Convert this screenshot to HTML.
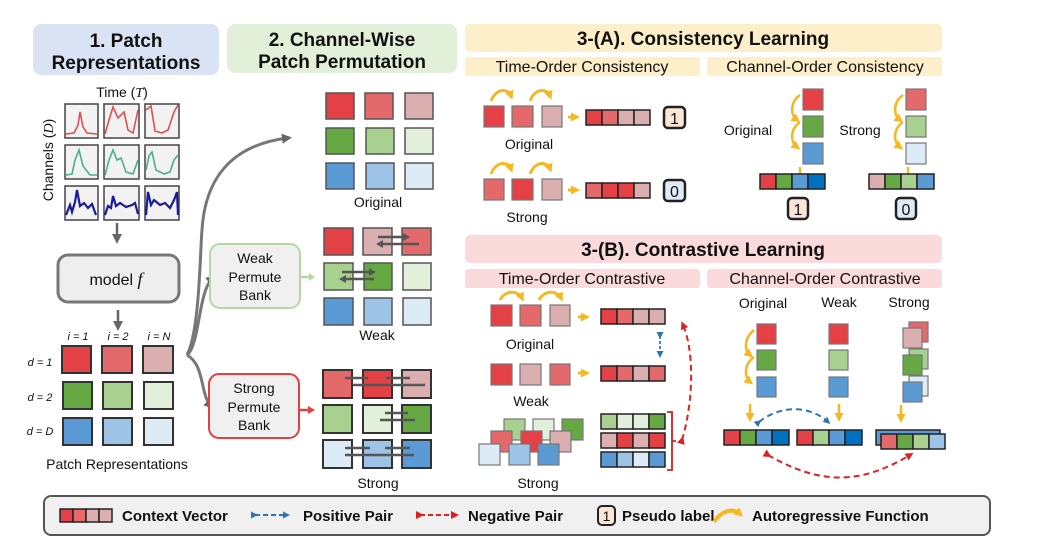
<!DOCTYPE html>
<html><head><meta charset="utf-8"><style>
html,body{margin:0;padding:0;background:#fff}
svg{display:block}
text{font-family:"Liberation Sans",sans-serif;fill:#111}
.b{font-weight:bold}
</style></head><body>
<svg width="1044" height="550" viewBox="0 0 1044 550" xmlns="http://www.w3.org/2000/svg">
<defs>
<marker id="ag" markerUnits="userSpaceOnUse" markerWidth="10" markerHeight="10" refX="6" refY="5" orient="auto"><path d="M0,0 L10,5 L0,10 z" fill="#666"/></marker>
<marker id="ay" markerUnits="userSpaceOnUse" markerWidth="9" markerHeight="9" refX="5" refY="4.5" orient="auto"><path d="M0,0 L9,4.5 L0,9 z" fill="#f5b820"/></marker>
<marker id="ab" markerUnits="userSpaceOnUse" markerWidth="7" markerHeight="7" refX="4" refY="3.5" orient="auto"><path d="M0,0 L7,3.5 L0,7 z" fill="#2e75b6"/></marker>
<marker id="ar" markerUnits="userSpaceOnUse" markerWidth="8" markerHeight="8" refX="4" refY="4" orient="auto"><path d="M0,0 L8,4 L0,8 z" fill="#e02020"/></marker>
</defs>

<!-- headers -->
<rect x="33" y="24" width="186" height="51" rx="8" fill="#dae3f3"/>
<text x="126" y="47" font-size="19" class="b" text-anchor="middle">1. Patch</text>
<text x="126" y="69" font-size="19" class="b" text-anchor="middle">Representations</text>
<rect x="227" y="24" width="230" height="49" rx="8" fill="#e2f0d9"/>
<text x="342" y="46" font-size="19" class="b" text-anchor="middle">2. Channel-Wise</text>
<text x="342" y="68" font-size="19" class="b" text-anchor="middle">Patch Permutation</text>
<rect x="465" y="24" width="477" height="28" rx="5" fill="#fdefc9"/>
<text x="703" y="45" font-size="19" class="b" text-anchor="middle">3-(A). Consistency Learning</text>
<rect x="465" y="57" width="235" height="19" rx="3" fill="#fdefc9"/>
<text x="582" y="72" font-size="16" text-anchor="middle">Time-Order Consistency</text>
<rect x="707" y="57" width="235" height="19" rx="3" fill="#fdefc9"/>
<text x="825" y="72" font-size="16" text-anchor="middle">Channel-Order Consistency</text>
<rect x="465" y="235" width="477" height="28" rx="5" fill="#fadadb"/>
<text x="703" y="256" font-size="19" class="b" text-anchor="middle">3-(B). Contrastive Learning</text>
<rect x="465" y="269" width="235" height="19" rx="3" fill="#fadadb"/>
<text x="582" y="284" font-size="16" text-anchor="middle">Time-Order Contrastive</text>
<rect x="707" y="269" width="235" height="19" rx="3" fill="#fadadb"/>
<text x="825" y="284" font-size="16" text-anchor="middle">Channel-Order Contrastive</text>

<!-- section 1 -->
<text x="122" y="97" font-size="14" text-anchor="middle">Time (<tspan font-style="italic" font-family="Liberation Serif">T</tspan>)</text>
<text transform="translate(53,160) rotate(-90)" font-size="14" text-anchor="middle">Channels (<tspan font-style="italic" font-family="Liberation Serif">D</tspan>)</text>
<g stroke="#444" stroke-width="1.5" fill="#f2f2f2">
<rect x="65" y="104" width="33" height="34"/><rect x="104" y="104" width="35" height="34"/><rect x="145" y="104" width="34" height="34"/>
<rect x="65" y="145" width="33" height="34"/><rect x="104" y="145" width="35" height="34"/><rect x="145" y="145" width="34" height="34"/>
<rect x="65" y="186" width="33" height="34"/><rect x="104" y="186" width="35" height="34"/><rect x="145" y="186" width="34" height="34"/>
</g>
<g fill="none" stroke-width="1.6">
<path d="M66,134 L74,133 L78,125 L80,112 L83,127 L87,133 L97,134" stroke="#e05050"/>
<path d="M105,134 L109,120 L113,107 L118,118 L124,112 L128,130 L133,133 L138,110" stroke="#e05050"/>
<path d="M146,110 L151,106 L155,131 L162,133 L168,130 L174,112 L178,105" stroke="#e05050"/>
<path d="M66,175 L72,174 L75,160 L79,150 L83,166 L90,175 L97,175" stroke="#4caf8a"/>
<path d="M105,175 L109,160 L113,150 L117,160 L121,158 L126,172 L133,174 L138,160" stroke="#4caf8a"/>
<path d="M146,170 L149,156 L152,152 L156,170 L164,174 L170,172 L174,160 L178,155" stroke="#4caf8a"/>
<path d="M66,215 L70,205 L72,212 L75,202 L77,190 L80,206 L84,203 L88,208 L92,204 L96,215" stroke="#1a1a9a" stroke-width="2.2"/>
<path d="M105,215 L108,206 L111,208 L113,196 L116,206 L120,203 L126,207 L132,205 L135,203 L138,214" stroke="#1a1a9a" stroke-width="2.2"/>
<path d="M146,215 L148,192 L151,205 L154,200 L160,205 L165,203 L170,208 L174,200 L177,192 L178,215" stroke="#1a1a9a" stroke-width="2.2"/>
</g>
<line x1="117" y1="223" x2="117" y2="240" stroke="#666" stroke-width="2.5" marker-end="url(#ag)"/>
<rect x="58" y="255" width="121" height="47" rx="10" fill="#eeeeee" stroke="#777" stroke-width="3"/>
<text x="116" y="285" font-size="16" text-anchor="middle">model <tspan font-style="italic" font-family="Liberation Serif" font-size="18">f</tspan></text>
<line x1="118" y1="310" x2="118" y2="327" stroke="#666" stroke-width="2.5" marker-end="url(#ag)"/>
<g font-family="Liberation Serif" font-style="italic" font-size="11" fill="#333">
<text x="78" y="340" text-anchor="middle">i = 1</text><text x="118" y="340" text-anchor="middle">i = 2</text><text x="159" y="340" text-anchor="middle">i = N</text>
<text x="40" y="366" text-anchor="middle">d = 1</text><text x="40" y="401" text-anchor="middle">d = 2</text><text x="40" y="435" text-anchor="middle">d = D</text>
</g>
<g stroke="#333" stroke-width="2">
<rect x="62" y="346" width="29" height="27" fill="#e44146"/><rect x="102" y="346" width="30" height="27" fill="#e3696b"/><rect x="143" y="346" width="30" height="27" fill="#dbaeb0"/>
<rect x="63" y="382" width="29" height="27" fill="#65a844"/><rect x="103" y="382" width="29" height="27" fill="#a8d08e"/><rect x="144" y="382" width="29" height="27" fill="#e2efda"/>
<rect x="63" y="418" width="29" height="27" fill="#5b9bd5"/><rect x="103" y="418" width="29" height="27" fill="#9dc3e6"/><rect x="144" y="418" width="29" height="27" fill="#ddebf7"/>
</g>
<text x="117" y="469" font-size="14" text-anchor="middle">Patch Representations</text>

<!-- curves -->
<g fill="none" stroke="#777" stroke-width="3">
<path d="M187,355 C200,330 200,250 202,230 C205,180 230,145 288,138" marker-end="url(#ag)"/>
<path d="M187,355 C200,345 198,290 213,278" marker-end="url(#ag)"/>
<path d="M187,355 C205,365 200,395 211,406" marker-end="url(#ag)"/>
</g>
<rect x="210" y="244" width="90" height="64" rx="10" fill="#f0f0f0" stroke="#b6d7a0" stroke-width="2"/>
<text x="255" y="263" font-size="14" text-anchor="middle">Weak</text>
<text x="255" y="282" font-size="14" text-anchor="middle">Permute</text>
<text x="255" y="300" font-size="14" text-anchor="middle">Bank</text>
<rect x="209" y="374" width="90" height="64" rx="10" fill="#f0f0f0" stroke="#e04040" stroke-width="2"/>
<text x="254" y="393" font-size="14" text-anchor="middle">Strong</text>
<text x="254" y="412" font-size="14" text-anchor="middle">Permute</text>
<text x="254" y="430" font-size="14" text-anchor="middle">Bank</text>
<line x1="301" y1="277" x2="310" y2="277" stroke="#b6d7a0" stroke-width="2.5"/>
<path d="M309,273 L315,277 L309,281z" fill="#b6d7a0"/>
<line x1="300" y1="410" x2="309" y2="410" stroke="#e04040" stroke-width="2.5"/>
<path d="M308,406 L315,410 L308,414z" fill="#e04040"/>

<!-- section 2 grids -->
<g stroke="#555" stroke-width="1.5">
<rect x="326" y="93" width="28" height="26" fill="#e44146"/><rect x="365" y="93" width="28" height="26" fill="#e3696b"/><rect x="405" y="93" width="28" height="26" fill="#dbaeb0"/>
<rect x="326" y="128" width="28" height="26" fill="#65a844"/><rect x="366" y="128" width="28" height="26" fill="#a8d08e"/><rect x="405" y="128" width="28" height="26" fill="#e2efda"/>
<rect x="326" y="163" width="28" height="26" fill="#5b9bd5"/><rect x="366" y="163" width="28" height="26" fill="#9dc3e6"/><rect x="405" y="163" width="28" height="26" fill="#ddebf7"/>
</g>
<text x="378" y="207" font-size="14" text-anchor="middle">Original</text>
<g stroke="#555" stroke-width="1.5">
<rect x="324" y="228" width="29" height="27" fill="#e44146"/><rect x="363" y="228" width="29" height="27" fill="#dbaeb0"/><rect x="402" y="228" width="29" height="27" fill="#e3696b"/>
<rect x="324" y="263" width="29" height="27" fill="#a8d08e"/><rect x="364" y="263" width="28" height="27" fill="#65a844"/><rect x="403" y="263" width="28" height="27" fill="#e2efda"/>
<rect x="324" y="298" width="29" height="27" fill="#5b9bd5"/><rect x="364" y="298" width="28" height="27" fill="#9dc3e6"/><rect x="403" y="298" width="28" height="27" fill="#ddebf7"/>
</g>
<g stroke="#555" stroke-width="2.5" fill="none">
<path d="M378,237 L404,237"/><path d="M419,244 L382,244"/>
<path d="M342,272 L370,272"/><path d="M374,279 L345,279"/>
</g>
<g fill="#555"><path d="M403,233 L410,237 L403,241z"/><path d="M383,240 L376,244 L383,248z"/><path d="M369,268 L376,272 L369,276z"/><path d="M346,275 L339,279 L346,283z"/></g>
<text x="377" y="340" font-size="14" text-anchor="middle">Weak</text>
<g stroke="#333" stroke-width="2">
<rect x="323" y="370" width="29" height="28" fill="#e3696b"/><rect x="363" y="370" width="29" height="28" fill="#e44146"/><rect x="402" y="370" width="29" height="28" fill="#dbaeb0"/>
<rect x="323" y="405" width="29" height="28" fill="#a8d08e"/><rect x="363" y="405" width="29" height="28" fill="#e2efda"/><rect x="402" y="405" width="29" height="28" fill="#65a844"/>
<rect x="323" y="440" width="29" height="28" fill="#ddebf7"/><rect x="363" y="440" width="29" height="28" fill="#9dc3e6"/><rect x="402" y="440" width="29" height="28" fill="#5b9bd5"/>
</g>
<g stroke="#555" stroke-width="2.5" fill="none">
<path d="M345,378 L368,378 M386,378 L410,378 M392,385 L353,385 M425,385 L392,385"/>
<path d="M385,413 L408,413 M415,420 L380,420"/>
<path d="M345,448 L370,448 M385,448 L410,448 M414,455 L345,455"/>
</g>
<text x="378" y="488" font-size="14" text-anchor="middle">Strong</text>

<!-- 3A time -->
<g stroke="#777" stroke-width="1.2">
<rect x="484" y="106" width="20" height="21" fill="#e44146"/><rect x="512" y="106" width="21" height="21" fill="#e3696b"/><rect x="542" y="106" width="20" height="21" fill="#dbaeb0"/>
<rect x="484" y="179" width="20" height="21" fill="#e3696b"/><rect x="512" y="179" width="21" height="21" fill="#e44146"/><rect x="542" y="179" width="20" height="21" fill="#dbaeb0"/>
</g>
<g fill="none" stroke="#f5b820" stroke-width="3">
<path d="M491,101 C496,88 508,88 511,96" marker-end="url(#ay)"/><path d="M530,101 C535,88 547,88 550,96" marker-end="url(#ay)"/>
<path d="M491,174 C496,161 508,161 511,169" marker-end="url(#ay)"/><path d="M530,174 C535,161 547,161 550,169" marker-end="url(#ay)"/>
<path d="M568,117 L576,117" marker-end="url(#ay)"/><path d="M568,190 L576,190" marker-end="url(#ay)"/>
</g>
<text x="529" y="149" font-size="14" text-anchor="middle">Original</text>
<text x="527" y="222" font-size="14" text-anchor="middle">Strong</text>
<g stroke="#222" stroke-width="1.5">
<rect x="586" y="110" width="16" height="15" fill="#e44146"/><rect x="602" y="110" width="16" height="15" fill="#e3696b"/><rect x="618" y="110" width="16" height="15" fill="#dbaeb0"/><rect x="634" y="110" width="16" height="15" fill="#dbaeb0"/>
<rect x="586" y="183" width="16" height="15" fill="#e3696b"/><rect x="602" y="183" width="16" height="15" fill="#e44146"/><rect x="618" y="183" width="16" height="15" fill="#e44146"/><rect x="634" y="183" width="16" height="15" fill="#dbaeb0"/>
</g>
<rect x="664" y="107" width="21" height="21" rx="4" fill="#fbe5d6" stroke="#222" stroke-width="2.5"/><text x="674.5" y="124" font-size="16" text-anchor="middle">1</text>
<rect x="664" y="180" width="21" height="21" rx="4" fill="#deebf7" stroke="#222" stroke-width="2.5"/><text x="674.5" y="197" font-size="16" text-anchor="middle">0</text>

<!-- 3A channel -->
<g stroke="#777" stroke-width="1.2">
<rect x="803" y="89" width="20" height="21" fill="#e44146"/><rect x="803" y="116" width="20" height="21" fill="#65a844"/><rect x="803" y="143" width="20" height="21" fill="#5b9bd5"/>
<rect x="906" y="89" width="20" height="21" fill="#e3696b"/><rect x="906" y="116" width="20" height="21" fill="#a8d08e"/><rect x="906" y="143" width="20" height="21" fill="#ddebf7"/>
</g>
<g fill="none" stroke="#f5b820" stroke-width="2.5">
<path d="M800,95 C790,102 790,115 797,120" marker-end="url(#ay)"/><path d="M800,122 C790,129 790,142 797,147" marker-end="url(#ay)"/>
<path d="M903,95 C893,102 893,115 900,120" marker-end="url(#ay)"/><path d="M903,122 C893,129 893,142 900,147" marker-end="url(#ay)"/>
<path d="M800,167 L800,180" marker-end="url(#ay)"/><path d="M908,167 L908,180" marker-end="url(#ay)"/>
</g>
<text x="748" y="135" font-size="14" text-anchor="middle">Original</text>
<text x="860" y="135" font-size="14" text-anchor="middle">Strong</text>
<g stroke="#222" stroke-width="1.5">
<rect x="760" y="174" width="16" height="15" fill="#e44146"/><rect x="776" y="174" width="16" height="15" fill="#65a844"/><rect x="792" y="174" width="16" height="15" fill="#5b9bd5"/><rect x="808" y="174" width="17" height="15" fill="#0070c0"/>
<rect x="869" y="174" width="16" height="15" fill="#dbaeb0"/><rect x="885" y="174" width="16" height="15" fill="#65a844"/><rect x="901" y="174" width="16" height="15" fill="#a8d08e"/><rect x="917" y="174" width="17" height="15" fill="#5b9bd5"/>
</g>
<rect x="788" y="198" width="20" height="21" rx="4" fill="#fbe5d6" stroke="#222" stroke-width="2.5"/><text x="798" y="215" font-size="16" text-anchor="middle">1</text>
<rect x="896" y="198" width="20" height="21" rx="4" fill="#deebf7" stroke="#222" stroke-width="2.5"/><text x="906" y="215" font-size="16" text-anchor="middle">0</text>

<!-- 3B time -->
<g stroke="#777" stroke-width="1.2">
<rect x="491" y="305" width="21" height="21" fill="#e44146"/><rect x="520" y="305" width="21" height="21" fill="#e3696b"/><rect x="550" y="305" width="20" height="21" fill="#dbaeb0"/>
<rect x="491" y="364" width="21" height="21" fill="#e44146"/><rect x="520" y="364" width="21" height="21" fill="#dbaeb0"/><rect x="550" y="364" width="20" height="21" fill="#e3696b"/>
<rect x="504" y="419" width="21" height="21" fill="#a8d08e"/><rect x="533" y="419" width="21" height="21" fill="#e2efda"/><rect x="562" y="419" width="21" height="21" fill="#65a844"/>
<rect x="491" y="431" width="21" height="21" fill="#e3696b"/><rect x="521" y="431" width="21" height="21" fill="#e44146"/><rect x="550" y="431" width="21" height="21" fill="#dbaeb0"/>
<rect x="479" y="444" width="21" height="21" fill="#ddebf7"/><rect x="509" y="444" width="21" height="21" fill="#9dc3e6"/><rect x="538" y="444" width="21" height="21" fill="#5b9bd5"/>
</g>
<g fill="none" stroke="#f5b820" stroke-width="3">
<path d="M500,300 C505,290 518,290 522,298" marker-end="url(#ay)"/><path d="M539,300 C544,290 557,290 561,298" marker-end="url(#ay)"/>
<path d="M578,317 L586,317" marker-end="url(#ay)"/><path d="M578,373 L586,373" marker-end="url(#ay)"/>
</g>
<text x="530" y="349" font-size="14" text-anchor="middle">Original</text>
<text x="531" y="406" font-size="14" text-anchor="middle">Weak</text>
<text x="538" y="488" font-size="14" text-anchor="middle">Strong</text>
<g stroke="#222" stroke-width="1.5">
<rect x="601" y="309" width="16" height="15" fill="#e44146"/><rect x="617" y="309" width="16" height="15" fill="#e3696b"/><rect x="633" y="309" width="16" height="15" fill="#dbaeb0"/><rect x="649" y="309" width="16" height="15" fill="#dbaeb0"/>
<rect x="601" y="366" width="16" height="15" fill="#e44146"/><rect x="617" y="366" width="16" height="15" fill="#e3696b"/><rect x="633" y="366" width="16" height="15" fill="#dbaeb0"/><rect x="649" y="366" width="16" height="15" fill="#e3696b"/>
<rect x="601" y="414" width="16" height="15" fill="#a8d08e"/><rect x="617" y="414" width="16" height="15" fill="#e2efda"/><rect x="633" y="414" width="16" height="15" fill="#e2efda"/><rect x="649" y="414" width="16" height="15" fill="#65a844"/>
<rect x="601" y="433" width="16" height="15" fill="#dbaeb0"/><rect x="617" y="433" width="16" height="15" fill="#e44146"/><rect x="633" y="433" width="16" height="15" fill="#dbaeb0"/><rect x="649" y="433" width="16" height="15" fill="#e44146"/>
<rect x="601" y="452" width="16" height="15" fill="#5b9bd5"/><rect x="617" y="452" width="16" height="15" fill="#9dc3e6"/><rect x="633" y="452" width="16" height="15" fill="#ddebf7"/><rect x="649" y="452" width="16" height="15" fill="#5b9bd5"/>
</g>
<path d="M667,412 L672,412 L672,470 L667,470 M672,441 L676,441" fill="none" stroke="#d02020" stroke-width="1.8"/>
<path d="M660,336 L660,355" stroke="#2e75b6" stroke-width="1.8" stroke-dasharray="3,2" marker-start="url(#ab)" marker-end="url(#ab)"/>
<path d="M682,440 C694,400 694,350 683,325" fill="none" stroke="#e02020" stroke-width="2" stroke-dasharray="6,4" marker-start="url(#ar)" marker-end="url(#ar)"/>

<!-- 3B channel -->
<text x="763" y="308" font-size="14" text-anchor="middle">Original</text>
<text x="839" y="307" font-size="14" text-anchor="middle">Weak</text>
<text x="909" y="307" font-size="14" text-anchor="middle">Strong</text>
<g stroke="#777" stroke-width="1.2">
<rect x="757" y="324" width="19" height="20" fill="#e44146"/><rect x="757" y="350" width="19" height="20" fill="#65a844"/><rect x="757" y="377" width="19" height="20" fill="#5b9bd5"/>
<rect x="829" y="324" width="19" height="20" fill="#e44146"/><rect x="829" y="350" width="19" height="20" fill="#a8d08e"/><rect x="829" y="377" width="19" height="20" fill="#5b9bd5"/>
<rect x="909" y="322" width="19" height="20" fill="#e3696b"/><rect x="903" y="328" width="19" height="20" fill="#dbaeb0"/>
<rect x="909" y="349" width="19" height="20" fill="#a8d08e"/><rect x="903" y="355" width="19" height="20" fill="#65a844"/>
<rect x="909" y="376" width="19" height="20" fill="#ddebf7"/><rect x="903" y="382" width="19" height="20" fill="#5b9bd5"/>
</g>
<g fill="none" stroke="#f5b820" stroke-width="2.5">
<path d="M754,330 C744,338 744,350 750,355" marker-end="url(#ay)"/><path d="M754,357 C744,364 744,377 750,382" marker-end="url(#ay)"/>
<path d="M750,404 L750,418" marker-end="url(#ay)"/><path d="M839,404 L839,418" marker-end="url(#ay)"/><path d="M901,405 L901,419" marker-end="url(#ay)"/>
</g>
<path d="M759,422 C780,405 810,405 828,422" fill="none" stroke="#2e75b6" stroke-width="2" stroke-dasharray="6,4" marker-start="url(#ab)" marker-end="url(#ab)"/>
<g stroke="#222" stroke-width="1.5">
<rect x="724" y="430" width="16" height="15" fill="#e44146"/><rect x="740" y="430" width="16" height="15" fill="#65a844"/><rect x="756" y="430" width="16" height="15" fill="#5b9bd5"/><rect x="772" y="430" width="17" height="15" fill="#0070c0"/>
<rect x="797" y="430" width="16" height="15" fill="#e44146"/><rect x="813" y="430" width="16" height="15" fill="#a8d08e"/><rect x="829" y="430" width="16" height="15" fill="#5b9bd5"/><rect x="845" y="430" width="17" height="15" fill="#0070c0"/>
<rect x="876" y="430" width="64" height="15" fill="#5b9bd5"/>
<rect x="881" y="434" width="16" height="15" fill="#e3696b"/><rect x="897" y="434" width="16" height="15" fill="#65a844"/><rect x="913" y="434" width="16" height="15" fill="#a8d08e"/><rect x="929" y="434" width="16" height="15" fill="#9dc3e6"/>
</g>
<path d="M768,455 C820,485 860,485 910,455" fill="none" stroke="#e02020" stroke-width="2" stroke-dasharray="6,4" marker-start="url(#ar)" marker-end="url(#ar)"/>

<!-- legend -->
<rect x="44" y="496" width="946" height="39" rx="7" fill="#f0f0f0" stroke="#555" stroke-width="2"/>
<g stroke="#222" stroke-width="1.5">
<rect x="60" y="509" width="13" height="13" fill="#e44146"/><rect x="73" y="509" width="13" height="13" fill="#e3696b"/><rect x="86" y="509" width="13" height="13" fill="#dbaeb0"/><rect x="99" y="509" width="13" height="13" fill="#dbaeb0"/>
</g>
<text x="122" y="521" font-size="15" class="b">Context Vector</text>
<path d="M255,515 L287,515" stroke="#2e75b6" stroke-width="2" stroke-dasharray="5,3" marker-start="url(#ab)" marker-end="url(#ab)"/>
<text x="303" y="521" font-size="15" class="b">Positive Pair</text>
<path d="M420,515 L455,515" stroke="#e02020" stroke-width="2" stroke-dasharray="5,3" marker-start="url(#ar)" marker-end="url(#ar)"/>
<text x="468" y="521" font-size="15" class="b">Negative Pair</text>
<rect x="598" y="506" width="17" height="19" rx="4" fill="#fbe5d6" stroke="#222" stroke-width="2"/>
<text x="606.5" y="521" font-size="14" text-anchor="middle">1</text>
<text x="622" y="521" font-size="15" class="b">Pseudo label</text>
<path d="M714,522 C722,510 733,508 740,514" fill="none" stroke="#f5b820" stroke-width="4" marker-end="url(#ay)"/>
<text x="752" y="521" font-size="15" class="b">Autoregressive Function</text>
</svg>
</body></html>
